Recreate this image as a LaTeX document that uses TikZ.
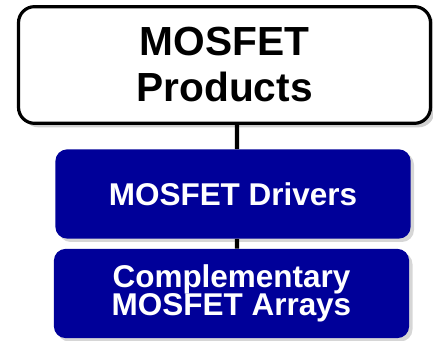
\documentclass[tikz,border=0pt]{standalone}
\usepackage{fontspec}
\setmainfont{Liberation Sans}
\usetikzlibrary{positioning,shadows}
\definecolor{boxBlue}{RGB}{0,0,153}
\definecolor{shadowGray}{RGB}{120,120,120}

\begin{document}
\begin{tikzpicture}[x=0.75pt,y=0.75pt]
\path[use as bounding box] (0,0) rectangle (433,-341);
\tikzset{
  topBox/.style={rounded corners=12pt,draw=black,fill=white,line width=2.4pt,minimum width=309pt,minimum height=87.5pt,align=center,font=\bfseries\fontsize{30.5}{34.5}\selectfont,drop shadow={shadow xshift=3pt,shadow yshift=-3pt,opacity=0.35,fill=shadowGray}},
  blueBox/.style={rounded corners=9pt,fill=boxBlue,text=white,minimum width=266.5pt,minimum height=67pt,align=center,font=\bfseries\fontsize{23.6}{21.5}\selectfont,drop shadow={shadow xshift=2.5pt,shadow yshift=-2.5pt,opacity=0.3,fill=shadowGray}},
  stem/.style={line width=3.2pt,draw=black}
}

\node[topBox] (products) at (224.5,-65) {MOSFET\\Products};
\node[blueBox] (drivers) at (233,-194) {MOSFET Drivers};
\node[blueBox] (arrays) at (231.5,-293.5) {Complementary\\MOSFET Arrays};

\draw[stem] ([xshift=9.4pt]products.south) -- ([xshift=3pt]drivers.north);
\draw[stem] ([xshift=3pt]drivers.south) -- ([xshift=4.1pt]arrays.north);
\end{tikzpicture}
\end{document}
